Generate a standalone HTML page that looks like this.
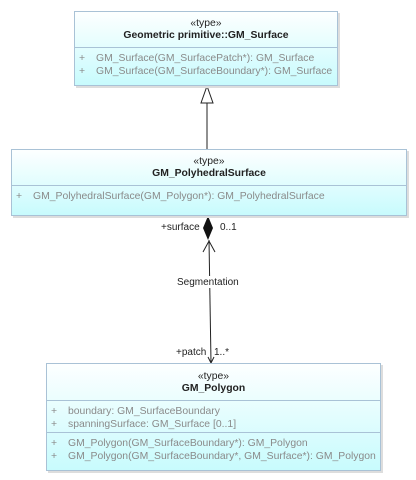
<!DOCTYPE html>
<html><head><style>
body{margin:0;width:416px;height:480px;background:#fff;font-family:"Liberation Sans",sans-serif;position:relative;overflow:hidden}
.b{position:absolute;border:1px solid #a9c2d6;background:linear-gradient(#fdffff,#c8fbfd);box-shadow:2px 2px 0 #ddd;font-size:10.4px;overflow:hidden}
.h{text-align:center;border-bottom:1px solid #a9c2d6;color:#222}
.h b{display:block;margin-top:1px}
.m{color:#8a8a8a;line-height:13px;padding:4px 0 1px 4px;white-space:nowrap}
.m span{display:inline-block;width:17px}
.s{border-bottom:1px solid #a9c2d6}
.t{position:absolute;font-size:10px;color:#222;white-space:nowrap}
</style></head><body>
<svg width="416" height="480" style="position:absolute;left:0;top:0">
<line x1="207" y1="103" x2="207" y2="149" stroke="#222"/>
<polygon points="207,86 201,103 213,103" fill="#fff" stroke="#222"/>
<line x1="209" y1="240" x2="211" y2="362" stroke="#222"/>
<polygon points="208,216 203,228 208,240 213,228" fill="#111"/>
<polyline points="203,252 209,241 215,252" fill="none" stroke="#222"/>
<polyline points="208,357 211,363 214,357" fill="none" stroke="#222"/>
<rect x="176" y="276" width="68" height="12" fill="#fff"/>
</svg>
<div class="b" style="left:74px;top:11px;width:262px;height:73px">
<div class="h" style="height:36px;padding-top:6px;box-sizing:border-box">«type»<b>Geometric primitive::GM_Surface</b></div>
<div class="m"><span>+</span>GM_Surface(GM_SurfacePatch*): GM_Surface<br><span>+</span>GM_Surface(GM_SurfaceBoundary*): GM_Surface</div>
</div>
<div class="b" style="left:11px;top:149px;width:394px;height:65px">
<div class="h" style="height:36px;padding-top:6px;box-sizing:border-box">«type»<b>GM_PolyhedralSurface</b></div>
<div class="m"><span>+</span>GM_PolyhedralSurface(GM_Polygon*): GM_PolyhedralSurface</div>
</div>
<div class="b" style="left:46px;top:363px;width:333px;height:106px">
<div class="h" style="height:37px;padding-top:7px;box-sizing:border-box">«type»<b>GM_Polygon</b></div>
<div class="m s"><span>+</span>boundary: GM_SurfaceBoundary<br><span>+</span>spanningSurface: GM_Surface [0..1]</div>
<div class="m"><span>+</span>GM_Polygon(GM_SurfaceBoundary*): GM_Polygon<br><span>+</span>GM_Polygon(GM_SurfaceBoundary*, GM_Surface*): GM_Polygon</div>
</div>
<div class="t" style="left:161px;top:222px">+surface</div>
<div class="t" style="left:220px;top:222px">0..1</div>
<div class="t" style="left:177px;top:277px">Segmentation</div>
<div class="t" style="left:176px;top:347px">+patch</div>
<div class="t" style="left:214px;top:347px">1..*</div>
</body></html>
